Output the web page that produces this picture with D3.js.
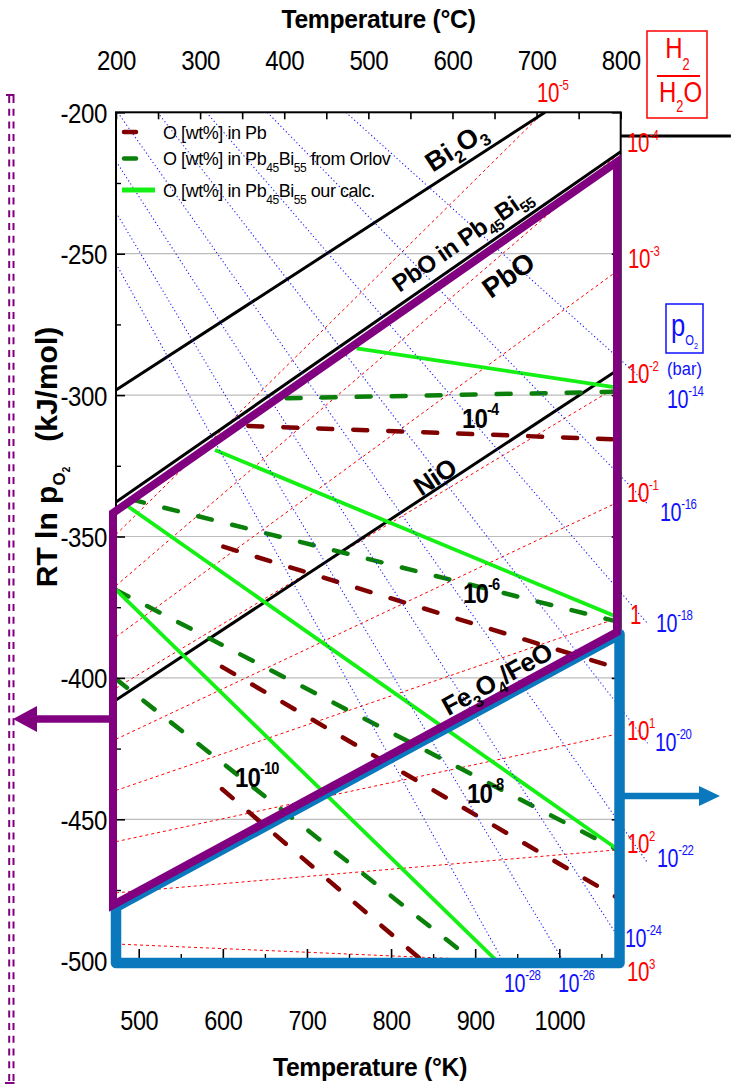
<!DOCTYPE html>
<html><head><meta charset="utf-8">
<script src="https://cdn.jsdelivr.net/npm/d3@7/dist/d3.min.js"></script>
<style>
html,body{margin:0;padding:0;background:#fff;}
svg{display:block;}
text{white-space:pre;}
</style></head>
<body>
<svg id="chart" width="731" height="1088"></svg>
<script>
// ================= DATA =================
const kelvinMajor = [500, 600, 700, 800, 900, 1000];
const kelvinMinor = [550, 650, 750, 850, 950, 1050];
const celsiusMajor = [200, 300, 400, 500, 600, 700, 800];
const celsiusMinor = [250, 350, 450, 550, 650, 750];
const energyMajor = [-200, -250, -300, -350, -400, -450, -500];
const energyMinor = [-225, -275, -325, -375, -425, -475];
const gridValues = [-250, -300, -350, -400, -450];

// H2/H2O ratio lines: value (kJ/mol) at 473 K and at 1073 K
const ratioLabels = ['10^-5', '10^-4', '10^-3', '10^-2', '10^-1', '1', '10^1', '10^2', '10^3'];
const ratioAt473 = [-349.3, -367.4, -385.5, -403.6, -421.7, -439.8, -457.9, -476.0, -494.1];
const ratioAt1073 = [-173.0, -214.1, -255.2, -296.3, -337.4, -378.5, -419.6, -460.7, -501.8];

// pO2 isobars (bar): start / end temperature (K) and value (kJ/mol)
const po2Labels = ['10^-14', '10^-16', '10^-18', '10^-20', '10^-22', '10^-24', '10^-26', '10^-28'];
const po2StartT = [746.2, 652.9, 580.4, 522.4, 474.9, 473, 473, 473];
const po2StartV = [-200, -200, -200, -200, -200, -217.3, -235.4, -253.5];
const po2EndT = [1105, 1105, 1105, 1105, 1105, 1073, 1004.5, 932.8];
const po2EndV = [-296.2, -338.5, -380.8, -423.1, -465.4, -493.0, -500, -500];

// oxide formation lines
const oxideNames = ['Bi2O3', 'PbO in Pb45Bi55', 'NiO'];
const oxideT = [[473, 983], [473, 1073], [473, 1073]];
const oxideV = [[-298.2, -200], [-337.8, -213.9], [-407.8, -290.4]];

// PbO / Fe3O4-FeO window boundaries
const pboWindowT = [469.4, 469.4, 1068.6, 1068.6];
const pboWindowV = [-341.7, -480.3, -383.8, -217.5];
const feWindowT = [1071.6, 473, 473, 1071.6];
const feWindowV = [-384.5, -481.0, -500.8, -500.8];

// oxygen concentration iso-lines (wt%)
const oxygenLevels = ['10^-4', '10^-6', '10^-8', '10^-10'];
const seriesNames = ['O [wt%] in Pb', 'O [wt%] in Pb45Bi55 from Orlov', 'O [wt%] in Pb45Bi55 our calc.'];
const pbT = [[630.3, 1073], [600.6, 1073], [599, 1073], [599, 839.1]];
const pbV = [[-310.9, -315.7], [-353.6, -396.9], [-396.1, -478.4], [-439.3, -500.5]];
const orlovT = [[675.9, 1073], [490, 1073], [473, 1073], [473, 899.8]];
const orlovV = [[-301.1, -298.8], [-336.8, -380.4], [-368.9, -461.4], [-400.4, -500.5]];
const calcT = [[759.1, 1073], [590.7, 1073], [483.2, 1073], [473, 927.1]];
const calcV = [[-283.5, -297.5], [-319.4, -379.0], [-338.5, -461.4], [-368.9, -500.5]];

// ================= LAYOUT / STYLE =================
const FONT = "'Liberation Sans', Arial, Helvetica, sans-serif";
const PURPLE = '#800080', BLUE = '#0a78bd', DARKRED = '#800000', GREEN = '#0a800a', LIME = '#14f014';
const svg = d3.select('#chart');
const x = d3.scaleLinear().domain([473, 1073]).range([116, 620.7]);
const xc = d3.scaleLinear().domain([200, 800]).range([116, 620.7]);
const y = d3.scaleLinear().domain([-200, -500]).range([112.3, 960.7]);
const line = d3.line().x(d => x(d[0])).y(d => y(d[1]));

svg.append('defs').append('clipPath').attr('id', 'plot').append('rect')
  .attr('x', x(473)).attr('y', y(-200))
  .attr('width', x(1073) - x(473)).attr('height', y(-500) - y(-200));

// rich text helper: parts = [text, baselineOffset, fontSize]
function rich(parent, px, py, parts, o) {
  let tr = `translate(${px},${py})`;
  if (o.rot) tr += ` rotate(${o.rot})`;
  if (o.sx) tr += ` scale(${o.sx},1)`;
  const t = parent.append('text').attr('transform', tr)
    .attr('font-family', FONT)
    .attr('font-weight', o.bold ? 'bold' : 'normal')
    .attr('fill', o.color || '#000')
    .attr('text-anchor', o.anchor || 'start')
    .attr('letter-spacing', o.ls || 0);
  let cur = -(o.vshift || 0);
  parts.forEach(([s, off, fs]) => {
    t.append('tspan').attr('dy', off - cur).attr('font-size', fs).text(s);
    cur = off;
  });
  return t;
}
function powParts(s, size, supSize, supOff) {
  const [a, b] = s.split('^');
  const p = [[a, 0, size]];
  if (b) p.push([b, -supOff, supSize]);
  return p;
}

// ---- grid ----
svg.append('g').selectAll('line').data(gridValues).join('line')
  .attr('x1', x(473)).attr('x2', x(1073)).attr('y1', d => y(d)).attr('y2', d => y(d))
  .attr('stroke', '#bcbcbc').attr('stroke-width', 1.2);

const plotG = svg.append('g').attr('clip-path', 'url(#plot)');

// ---- H2/H2O ratio lines ----
plotG.append('g').selectAll('path')
  .data(ratioLabels.map((l, i) => [[473, ratioAt473[i]], [1073, ratioAt1073[i]]]))
  .join('path').attr('d', line).attr('fill', 'none')
  .attr('stroke', '#ff0000').attr('stroke-width', 1).attr('stroke-dasharray', '3,3');

// ---- pO2 isobars ----
svg.append('g').selectAll('path')
  .data(po2Labels.map((l, i) => [[po2StartT[i], po2StartV[i]], [po2EndT[i], po2EndV[i]]]))
  .join('path').attr('d', line).attr('fill', 'none')
  .attr('stroke', '#1a1aff').attr('stroke-width', 1.1).attr('stroke-dasharray', '1.2,2.6');

// ---- oxide lines ----
plotG.append('g').selectAll('path')
  .data(oxideNames.map((n, i) => oxideT[i].map((t, j) => [t, oxideV[i][j]])))
  .join('path').attr('d', line).attr('fill', 'none')
  .attr('stroke', '#000').attr('stroke-width', 3);

// ---- oxygen concentration series ----
function drawSeries(Ts, Vs, color, dashed) {
  plotG.append('g').selectAll('path')
    .data(Ts.map((t, i) => t.map((tt, j) => [tt, Vs[i][j]])))
    .join('path').attr('d', line).attr('fill', 'none')
    .attr('stroke', color).attr('stroke-width', dashed ? 4.5 : 3.8)
    .attr('stroke-dasharray', dashed ? '14,21' : null)
    .attr('stroke-linecap', dashed ? 'round' : 'butt');
}
drawSeries(pbT, pbV, DARKRED, true);
drawSeries(orlovT, orlovV, GREEN, true);
drawSeries(calcT, calcV, LIME, false);

// ---- axes ----
function styleTicks(g, w) { g.select('.domain').remove(); g.selectAll('.tick line').attr('stroke', '#000').attr('stroke-width', w); }
const axL = svg.append('g').attr('transform', `translate(${x(473)},0)`)
  .call(d3.axisLeft(y).tickValues(energyMajor).tickSize(-9).tickPadding(9).tickFormat(d => String(d)));
styleTicks(axL, 1.6);
axL.selectAll('text').attr('x', 0).attr('dy', null).attr('fill', '#000')
  .attr('font-size', 28).attr('font-family', FONT).attr('letter-spacing', -0.5)
  .attr('transform', 'translate(-9,10) scale(0.86,1)');
styleTicks(svg.append('g').attr('transform', `translate(${x(473)},0)`)
  .call(d3.axisLeft(y).tickValues(energyMinor).tickSize(-5).tickFormat('')), 1.4);
styleTicks(svg.append('g').attr('transform', `translate(${x(1073)},0)`)
  .call(d3.axisRight(y).tickValues(energyMajor).tickSize(-9).tickFormat('')), 1.6);
styleTicks(svg.append('g').attr('transform', `translate(${x(1073)},0)`)
  .call(d3.axisRight(y).tickValues(energyMinor).tickSize(-5).tickFormat('')), 1.4);

const axB = svg.append('g').attr('transform', `translate(0,${y(-500)})`)
  .call(d3.axisBottom(x).tickValues(kelvinMajor).tickSize(-11.7).tickFormat(d => String(d)));
styleTicks(axB, 1.6);
axB.selectAll('text').attr('y', 0).attr('dy', null).attr('fill', '#000')
  .attr('font-size', 28).attr('font-family', FONT).attr('letter-spacing', -0.5)
  .attr('transform', 'translate(0,69.3) scale(0.84,1)');
styleTicks(svg.append('g').attr('transform', `translate(0,${y(-500)})`)
  .call(d3.axisBottom(x).tickValues(kelvinMinor).tickSize(-6.7).tickFormat('')), 1.4);

const axT = svg.append('g').attr('transform', `translate(0,${y(-200)})`)
  .call(d3.axisTop(xc).tickValues(celsiusMajor).tickSize(-7).tickFormat(d => String(d)));
styleTicks(axT, 1.6);
axT.selectAll('text').attr('y', 0).attr('dy', null).attr('fill', '#000')
  .attr('font-size', 28).attr('font-family', FONT).attr('letter-spacing', -0.5)
  .attr('transform', 'translate(0,-42.3) scale(0.86,1)');
styleTicks(svg.append('g').attr('transform', `translate(0,${y(-200)})`)
  .call(d3.axisTop(xc).tickValues(celsiusMinor).tickSize(-7).tickFormat('')), 1.6);

// frame
svg.append('rect').attr('x', x(473)).attr('y', y(-200))
  .attr('width', x(1073) - x(473)).attr('height', y(-500) - y(-200))
  .attr('fill', 'none').attr('stroke', '#000').attr('stroke-width', 2);

// stray black line right of the frame (at H2/H2O 10^-4 label)
svg.append('path').attr('d', line([[1073, -208.4], [1204, -208.4]]))
  .attr('stroke', '#000').attr('stroke-width', 3);

// ---- stability windows ----
svg.append('path').attr('d', line(feWindowT.map((t, i) => [t, feWindowV[i]])) + 'Z')
  .attr('fill', 'none').attr('stroke', BLUE).attr('stroke-width', 10.5).attr('stroke-linejoin', 'round');
svg.append('path').attr('d', line(pboWindowT.map((t, i) => [t, pboWindowV[i]])) + 'Z')
  .attr('fill', 'none').attr('stroke', PURPLE).attr('stroke-width', 8).attr('stroke-linejoin', 'miter');

// arrows
svg.append('line').attr('x1', 110).attr('x2', 33).attr('y1', 719).attr('y2', 719)
  .attr('stroke', PURPLE).attr('stroke-width', 7.5);
svg.append('path').attr('d', 'M13,719 L37,706 L37,732 Z').attr('fill', PURPLE);
svg.append('line').attr('x1', 624).attr('x2', 703).attr('y1', 796).attr('y2', 796)
  .attr('stroke', BLUE).attr('stroke-width', 6.5);
svg.append('path').attr('d', 'M720,796 L699,786 L699,806 Z').attr('fill', BLUE);

// dashed double purple line at far left
[9.2, 13.5].forEach(xx => svg.append('line').attr('x1', xx).attr('x2', xx).attr('y1', 96).attr('y2', 1083)
  .attr('stroke', PURPLE).attr('stroke-width', 2).attr('stroke-dasharray', '7,5.7'));
svg.append('line').attr('x1', 6).attr('x2', 14.5).attr('y1', 95).attr('y2', 95).attr('stroke', PURPLE).attr('stroke-width', 2);
svg.append('line').attr('x1', 5).attr('x2', 14.5).attr('y1', 1083).attr('y2', 1083).attr('stroke', PURPLE).attr('stroke-width', 2);

// ---- titles ----
const T = svg.append('g');
rich(T, 378.5, 28, [['Temperature (°C)', 0, 26]], { bold: true, anchor: 'middle', sx: 0.95, ls: -0.3 });
rich(T, 370, 1076, [['Temperature (°K)', 0, 26]], { bold: true, anchor: 'middle', sx: 0.95, ls: -0.3 });
rich(T, 57, 457, [['RT ln p', 0, 30], ['O', 8, 17], ['2', 13, 10], ['   (kJ/mol)', 0, 30]],
  { bold: true, anchor: 'middle', rot: -90 });

// ---- legend ----
const legY = [132, 158.5, 190];
const legColors = [DARKRED, GREEN, LIME];
const legParts = [
  [[seriesNames[0], 0, 18]],
  [['O [wt%] in Pb', 0, 18], ['45', 7, 12], ['Bi', 0, 18], ['55', 7, 12], [' from Orlov', 0, 18]],
  [['O [wt%] in Pb', 0, 18], ['45', 7, 12], ['Bi', 0, 18], ['55', 7, 12], [' our calc.', 0, 18]]
];
legY.forEach((ly, i) => {
  if (i < 2) svg.append('line').attr('x1', 124).attr('x2', 136).attr('y1', ly).attr('y2', ly)
    .attr('stroke', legColors[i]).attr('stroke-width', 4.5).attr('stroke-linecap', 'round');
  else svg.append('line').attr('x1', 122).attr('x2', 155).attr('y1', ly).attr('y2', ly)
    .attr('stroke', legColors[i]).attr('stroke-width', 5);
  rich(svg, 163, ly + 6.8, legParts[i], { ls: -0.45 });
});

// ---- oxide / window labels ----
rich(svg, 456, 147, [['Bi', 0, 27], ['2', 7, 17], ['O', 0, 27], ['3', 7, 17]], { bold: true, anchor: 'middle', rot: -33, vshift: 9 });
rich(svg, 462, 240, [['PbO in Pb', 0, 24], ['45', 6, 15], ['Bi', 0, 24], ['55', 6, 15]], { bold: true, anchor: 'middle', rot: -34.8, vshift: 8, ls: -0.6 });
rich(svg, 508, 275, [['PbO', 0, 28]], { bold: true, anchor: 'middle', rot: -35, vshift: 10, ls: -0.5 });
rich(svg, 435, 477, [['NiO', 0, 26]], { bold: true, anchor: 'middle', rot: -33.3, vshift: 9, ls: -0.5 });
rich(svg, 497, 679, [['Fe', 0, 26], ['3', 7, 16], ['O', 0, 26], ['4', 7, 16], ['/FeO', 0, 26]], { bold: true, anchor: 'middle', rot: -29, vshift: 9, ls: -0.5 });

// ---- concentration labels ----
const concLabelPos = [[462, 428], [463, 603], [467, 803], [235, 787]];
oxygenLevels.forEach((s, i) => rich(svg, concLabelPos[i][0], concLabelPos[i][1],
  powParts(s, 28, 17, 13), { bold: true, sx: 0.86, ls: -1 }));

// ---- H2/H2O labels ----
const ratioLabelPos = [[537, 102], [627, 152], [628, 268], [627, 383], [627, 502], [630, 624], [627, 740], [627, 853], [627, 981]];
ratioLabels.forEach((s, i) => rich(svg, ratioLabelPos[i][0], ratioLabelPos[i][1],
  powParts(s, 27, 15, 12), { color: '#ff0000', sx: 0.76, ls: -0.5 }));

// ---- pO2 labels ----
const po2LabelPos = [[667, 408], [660, 521], [656, 632], [655, 751], [657, 867], [625, 947], [558, 992], [504, 992]];
po2Labels.forEach((s, i) => rich(svg, po2LabelPos[i][0], po2LabelPos[i][1],
  powParts(s, 26, 15, 12), { color: '#1010ff', sx: 0.76, ls: -0.5 }));

// ---- boxes ----
svg.append('rect').attr('x', 647).attr('y', 31).attr('width', 60).attr('height', 87)
  .attr('fill', 'none').attr('stroke', '#ff0000').attr('stroke-width', 1.5);
rich(svg, 677.5, 58, [['H', 0, 30], ['2', 12, 16]], { color: '#ff0000', anchor: 'middle', sx: 0.8 });
svg.append('line').attr('x1', 657).attr('x2', 700).attr('y1', 76).attr('y2', 76).attr('stroke', '#ff0000').attr('stroke-width', 2);
rich(svg, 680.5, 102, [['H', 0, 30], ['2', 10, 16], ['O', 0, 30]], { color: '#ff0000', anchor: 'middle', sx: 0.8 });

svg.append('rect').attr('x', 666).attr('y', 304).attr('width', 37).attr('height', 49)
  .attr('fill', 'none').attr('stroke', '#1010ff').attr('stroke-width', 1.5);
rich(svg, 671, 336, [['p', 0, 32], ['O', 9, 14], ['2', 13, 9]], { color: '#1010ff', sx: 0.8 });
rich(svg, 667, 375, [['(bar)', 0, 19]], { color: '#1010ff', sx: 0.87 });
</script>
</body></html>
